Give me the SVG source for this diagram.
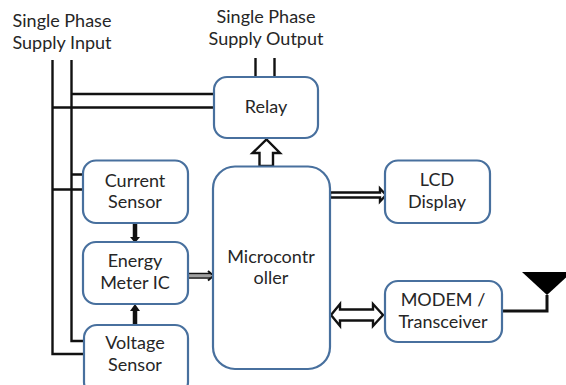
<svg xmlns="http://www.w3.org/2000/svg" width="566" height="385" viewBox="0 0 566 385">
<style>
.box{fill:#fff;stroke:#48709e;stroke-width:2.2}
.t{font-family:Lato,"Open Sans","Liberation Sans",sans-serif;font-size:18px;fill:#262626;text-anchor:middle}
.w{fill:none;stroke:#111;stroke-width:2.4}
.b{fill:none;stroke:#111;stroke-width:4.5}
.o{fill:#fff;stroke:#111;stroke-width:2.4;stroke-linejoin:miter}
</style>
<rect width="566" height="385" fill="#fff"/>
<g id="connectors">
<path class="w" d="M52.500 60V354H84M71.500 60V341H84M71 94H214M52 107.500H214M71 174.500H83M52 189.500H83M255.500 58V77M274.500 58V77"/>
<path class="b" d="M135 223V238"/>
<path d="M130 237H140L135 243Z" fill="#111"/>
<path class="b" d="M135 325V310"/>
<path d="M130 311H140L135 304Z" fill="#111"/>
<path d="M188 275.700H211" fill="none" stroke="#a0a0a0" stroke-width="3"/>
<path d="M188 273.500H210M188 278H210" fill="none" stroke="#111" stroke-width="1.600"/>
<path d="M208 271L213.500 275.700L208 280.500" fill="none" stroke="#111" stroke-width="2"/>
<path class="o" d="M259.500 166V153H252.500L266.500 139.500L280 153H273V166Z"/>
<path class="o" d="M330 192.500H380V188.500L386 195L380 201.500V197.500H330Z"/>
<path class="o" d="M331 315L340 304V309.500H373V304L383 315L373 326V320.500H340V326Z"/>
<path d="M502 311H547V295" fill="none" stroke="#111" stroke-width="3"/>
<path d="M522 272H572L547 295Z" fill="#000"/>
</g>
<g id="relay"><rect class="box" x="214" y="77" width="104" height="61" rx="13"/><text class="t" x="266" y="113">Relay</text></g>
<g id="current-sensor"><rect class="box" x="83" y="160.500" width="105" height="62.500" rx="13"/><text class="t" x="135" y="187">Current</text><text class="t" x="135" y="208">Sensor</text></g>
<g id="energy-meter"><rect class="box" x="83" y="242" width="105" height="62" rx="13"/><text class="t" x="135" y="267">Energy</text><text class="t" x="135" y="289">Meter IC</text></g>
<g id="voltage-sensor"><rect class="box" x="84" y="325" width="104" height="70" rx="13"/><text class="t" x="135" y="349">Voltage</text><text class="t" x="135" y="371">Sensor</text></g>
<g id="microcontroller"><rect class="box" x="213" y="166.500" width="117" height="202.500" rx="22"/><text class="t" x="271" y="263">Microcontr</text><text class="t" x="271" y="284">oller</text></g>
<g id="lcd"><rect class="box" x="385" y="160.500" width="105" height="62.500" rx="13"/><text class="t" x="437" y="186">LCD</text><text class="t" x="437" y="208">Display</text></g>
<g id="modem"><rect class="box" x="385" y="281" width="117" height="61" rx="13"/><text class="t" x="443" y="306">MODEM /</text><text class="t" x="443" y="328">Transceiver</text></g>
<g id="supply-input"><text class="t" x="62" y="27">Single Phase</text><text class="t" x="62" y="49">Supply Input</text></g>
<g id="supply-output"><text class="t" x="266" y="23">Single Phase</text><text class="t" x="266" y="45">Supply Output</text></g>
</svg>
